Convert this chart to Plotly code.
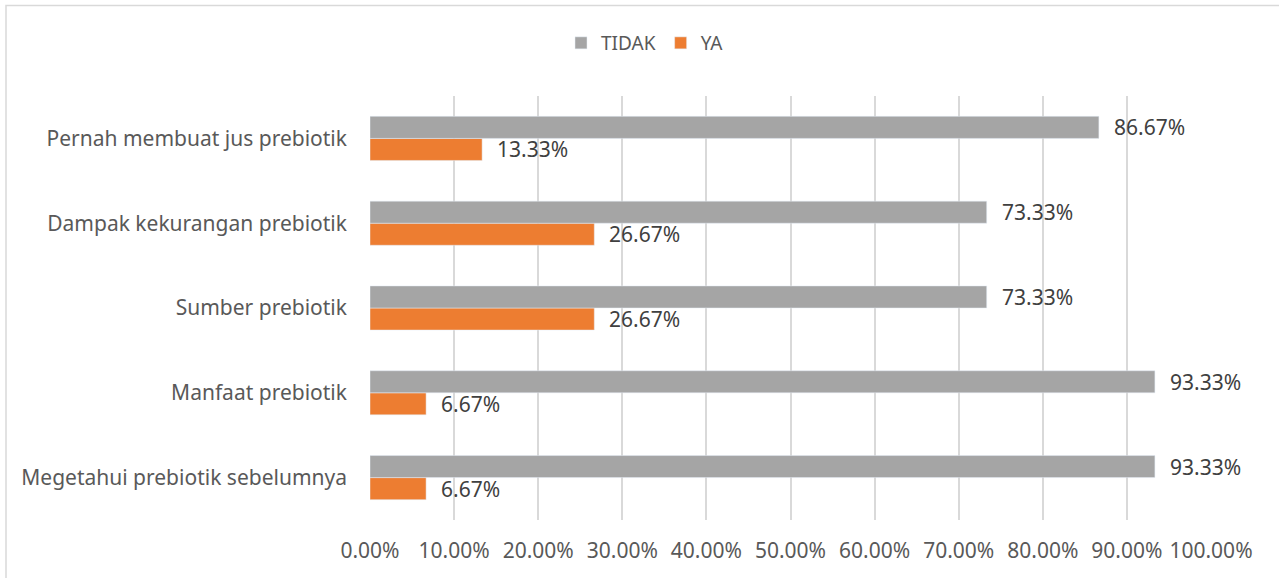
import plotly.graph_objects as go

categories = [
    "Megetahui prebiotik sebelumnya",
    "Manfaat prebiotik",
    "Sumber prebiotik",
    "Dampak kekurangan prebiotik",
    "Pernah membuat jus prebiotik",
]
tidak = [93.33, 93.33, 73.33, 73.33, 86.67]
ya = [6.67, 6.67, 26.67, 26.67, 13.33]
x_ticks = [0, 10, 20, 30, 40, 50, 60, 70, 80, 90, 100]
x_tick_labels = [f"{v:.2f}%" for v in x_ticks]

GRAY = "#A5A5A5"
ORANGE = "#ED7D31"
FONT = "Noto Sans"

fig = go.Figure()
fig.add_trace(go.Bar(y=categories, x=ya, name="YA", orientation="h",
                     marker=dict(color=ORANGE), legendrank=2, hoverinfo="x+name"))
fig.add_trace(go.Bar(y=categories, x=tidak, name="TIDAK", orientation="h",
                     marker=dict(color=GRAY), legendrank=1, hoverinfo="x+name"))

annotations = []
for c, v in zip(categories, tidak):
    annotations.append(dict(x=v, y=c, xref="x", yref="y", text=f"{v:.2f}%",
                            showarrow=False, xanchor="left", yanchor="middle",
                            xshift=13, yshift=11,
                            font=dict(family=FONT, size=21, color="#404040")))
for c, v in zip(categories, ya):
    annotations.append(dict(x=v, y=c, xref="x", yref="y", text=f"{v:.2f}%",
                            showarrow=False, xanchor="left", yanchor="middle",
                            xshift=13, yshift=-11,
                            font=dict(family=FONT, size=21, color="#404040")))

# outer chart border (left and top edges visible in frame)
L, R, T, B = 370, 68, 96, 58
W, H = 1279, 578
pw, ph = W - L - R, H - T - B
fig.add_shape(type="rect", xref="paper", yref="paper",
              x0=(6 - L) / pw, x1=(W + 20 - L) / pw,
              y0=(H - B - (H + 20)) / ph, y1=(H - B - 5.5) / ph,
              line=dict(color="#D9D9D9", width=1.5), fillcolor="rgba(0,0,0,0)",
              layer="below")

fig.update_layout(
    width=W, height=H,
    margin=dict(l=L, r=R, t=T, b=B, autoexpand=False),
    paper_bgcolor="white", plot_bgcolor="white",
    barmode="group", bargap=0.48, bargroupgap=0,
    font=dict(family=FONT, size=21, color="#595959"),
    showlegend=True,
    legend=dict(orientation="h", x=(645 - L) / pw, xanchor="center",
                y=(H - B - 43) / ph, yanchor="middle",
                bgcolor="rgba(0,0,0,0)",
                font=dict(family=FONT, size=19, color="#595959"),
                itemwidth=30, tracegroupgap=0),
    annotations=annotations,
    xaxis=dict(range=[0, 100], tickvals=x_ticks, ticktext=x_tick_labels,
               showgrid=True, gridcolor="#D9D9D9", gridwidth=1.5,
               zeroline=False, showline=False, ticks="", ticklabelstandoff=16,
               automargin=False,
               tickfont=dict(family=FONT, size=21, color="#595959")),
    yaxis=dict(type="category", categoryorder="array", categoryarray=categories,
               showgrid=False, zeroline=False, showline=False, ticks="",
               ticklabelstandoff=22, automargin=False,
               tickfont=dict(family=FONT, size=21, color="#595959")),
)

fig.write_html("out.html", config={"displayModeBar": False},
               post_script="document.body.style.margin='0px';document.body.style.overflow='hidden';")
